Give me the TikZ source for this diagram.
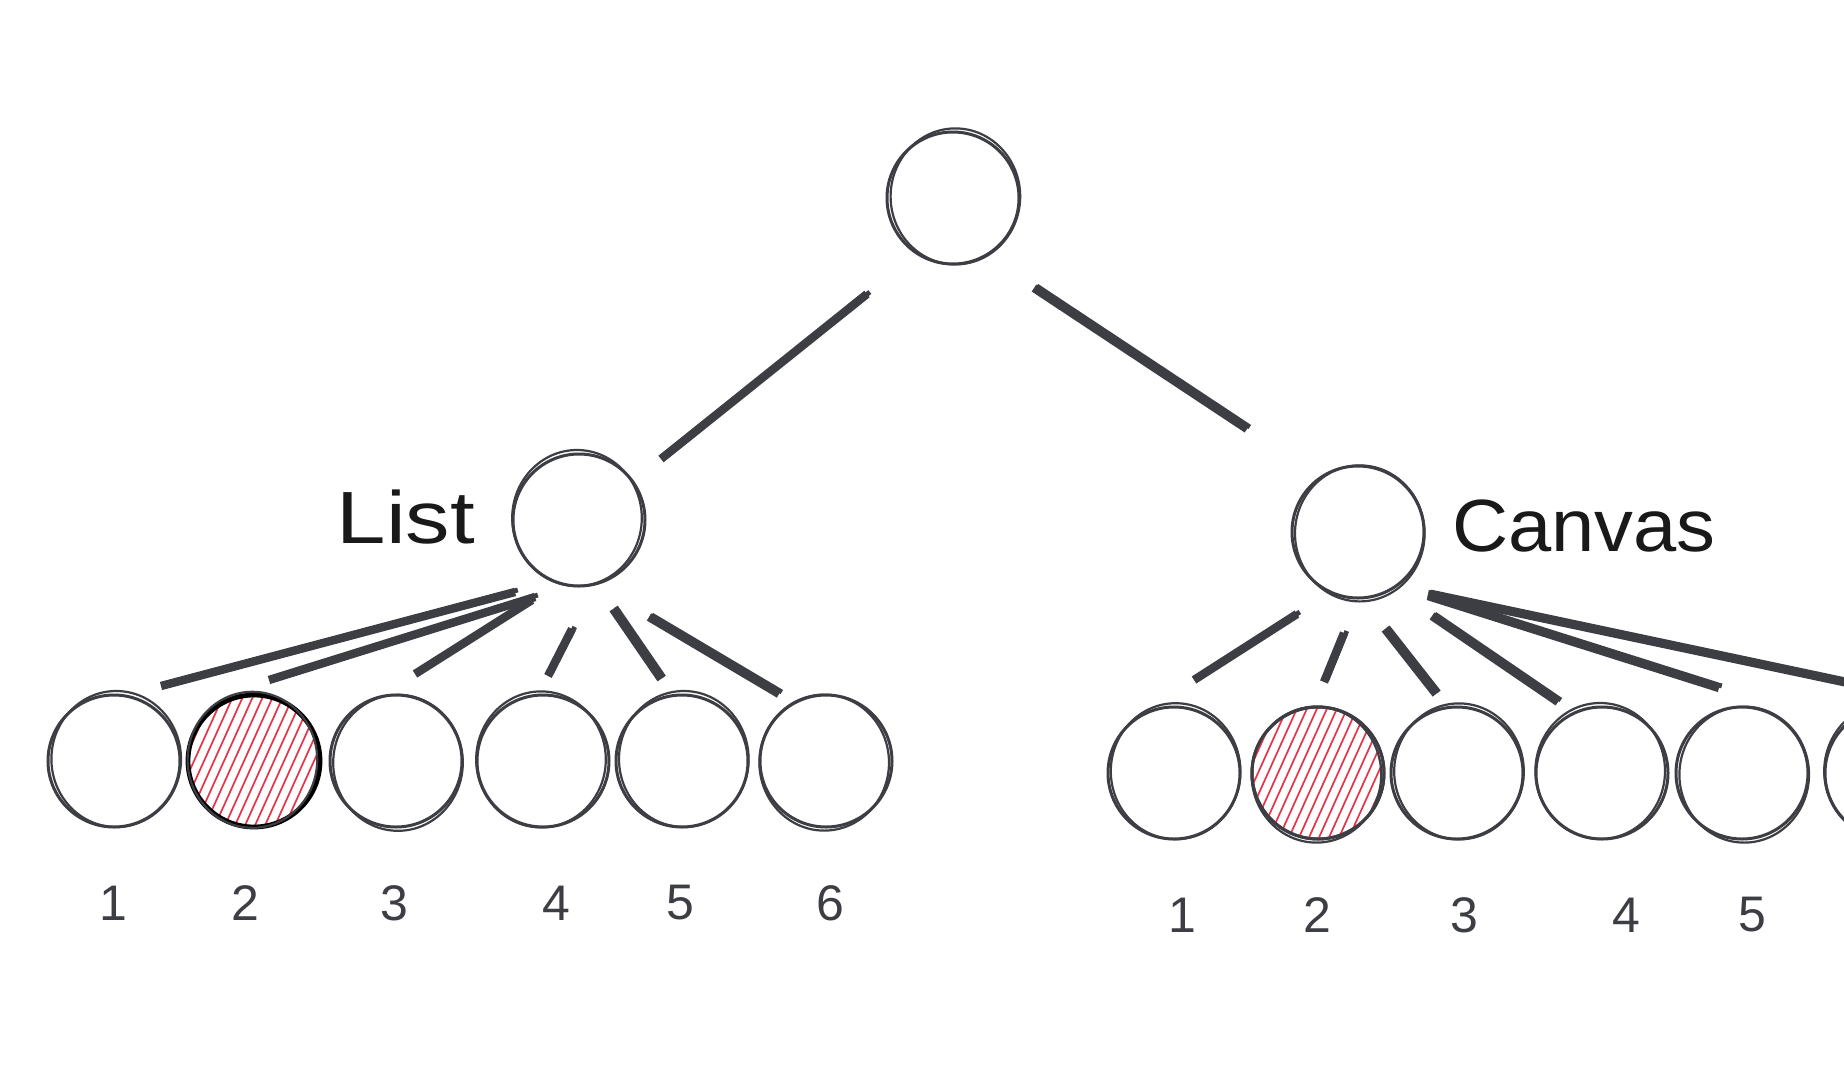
\documentclass[tikz,border=0pt]{standalone}
\usepackage{fontspec}
\usepackage{graphicx}
\setmainfont{Liberation Sans}
\definecolor{ink}{RGB}{60,62,68}
\definecolor{hatchred}{RGB}{232,52,72}
\tikzset{
  nd/.style={circle, draw=ink, line width=1.5pt, minimum size=66pt, inner sep=0pt},
  sk/.style={ink, line width=1.1pt},
  edgemain/.style={ink, line width=4.2pt, line cap=butt},
  edgeside/.style={ink, line width=2.4pt, line cap=butt},
  hatch/.style={hatchred, line width=0.85pt},
  lbl/.style={font=\fontsize{37}{40}\selectfont, text=black!90, inner sep=0pt},
  num/.style={font=\fontsize{25}{28}\selectfont, text=ink, inner sep=0pt}
}
\begin{document}
\begin{tikzpicture}[x=0.5pt,y=-0.5pt]
\useasboundingbox (0,0) rectangle (1844,1072);
\clip (0,0) rectangle (1844,1072);
\fill[white] (0,0) rectangle (1844,1072);

% nodes
\node[nd] (root) at (953,198) {};
\node[nd] (A) at (579,520) {};
\node[nd] (B) at (1358,532) {};
\foreach \i/\x in {1/114,2/254,3/396,4/543,5/682,6/826}
  \node[nd] (L\i) at (\x,761) {};
\foreach \i/\x in {1/1174,2/1318,3/1457,4/1602,5/1742,6/1891}
  \node[nd] (R\i) at (\x,773) {};

% hatching
\foreach \n in {L2,R2}{
  \begin{scope}
    \clip (\n) circle[radius=65];
    \foreach \k in {-120,-110,...,120}
      \draw[hatch] ([xshift=\k*0.5pt-18pt,yshift=-40pt]\n.center) -- ([xshift=\k*0.5pt+18pt,yshift=40pt]\n.center);
  \end{scope}
}
\node[nd, draw=black, line width=2.4pt] at (L2) {};
\node[nd] at (R2) {};

% second sketch strokes
\foreach \n/\dx/\dy in {root/1.2/0.8,A/-1.0/1.0,B/0.9/-0.7,L1/1.1/1.0,L2/-0.8/0.6,L3/1.0/-0.9,L4/-1.0/0.8,L5/0.9/1.0,L6/-0.9/-0.8,R1/0.8/0.9,R2/-0.8/-0.8,R3/1.0/0.8,R4/-0.9/1.0,R5/1.1/-0.8,R6/-1.0/0.9}
  \draw[sk] ([xshift=\dx pt,yshift=\dy pt]\n.center) ellipse[x radius=32.4pt, y radius=34pt];

% edge end points
\coordinate (rAs) at (867,294); \coordinate (rAe) at (661,459);
\coordinate (rBs) at (1034,288); \coordinate (rBe) at (1247,429);
\coordinate (A1s) at (515,592); \coordinate (A1e) at (161,686);
\coordinate (A2s) at (535,597); \coordinate (A2e) at (269,680);
\coordinate (A3s) at (532,600); \coordinate (A3e) at (415,674);
\coordinate (A4s) at (572,629); \coordinate (A4e) at (548,676);
\coordinate (A5s) at (613,609); \coordinate (A5e) at (661,679);
\coordinate (A6s) at (649,617); \coordinate (A6e) at (779,694);
\coordinate (B1s) at (1297,614); \coordinate (B1e) at (1194,680);
\coordinate (B2s) at (1344,633); \coordinate (B2e) at (1324,682);
\coordinate (B3s) at (1385,629); \coordinate (B3e) at (1436,694);
\coordinate (B4s) at (1432,616); \coordinate (B4e) at (1558,702);
\coordinate (B5s) at (1428,596); \coordinate (B5e) at (1719,688);
\coordinate (B6s) at (1428,594); \coordinate (B6e) at (1900,694);

\foreach \e in {rA,rB,A1,A2,A3,A4,A5,A6,B1,B2,B3,B4,B5,B6}{
  \draw[edgemain] (\e s) -- (\e e);
  \draw[edgeside] ([xshift=1.4pt,yshift=1.0pt]\e s) -- ([xshift=1.4pt,yshift=1.0pt]\e e);
}

% labels
\node[lbl] (tList) at (406,517) {\scalebox{1.2}[1]{List}};
\node[lbl] (tCanvas) at (1584,526) {\scalebox{1.05}[1]{Canvas}};

\foreach \i/\x in {1/113,2/245,3/394,4/556,5/680,6/830}
  \node[num] (nl\i) at (\x,903) {\i};
\foreach \i/\x in {1/1182,2/1317,3/1464,4/1626,5/1752}
  \node[num] (nr\i) at (\x,915) {\i};
\end{tikzpicture}
\end{document}
